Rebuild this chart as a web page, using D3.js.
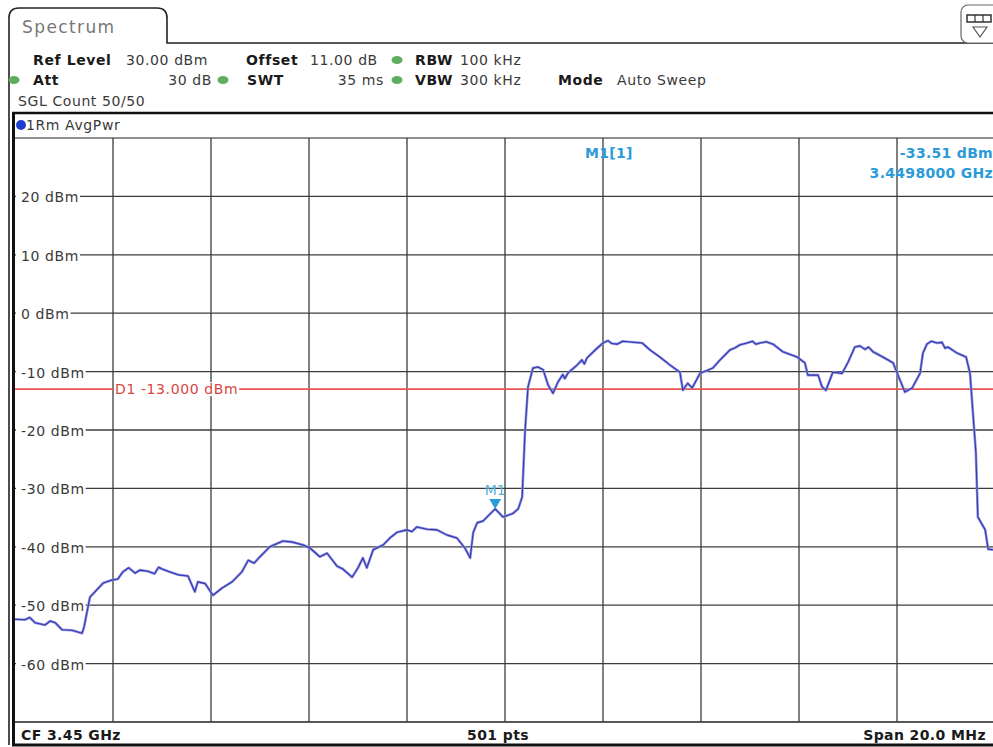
<!DOCTYPE html>
<html><head><meta charset="utf-8">
<script src="https://cdn.jsdelivr.net/npm/d3@7"></script>
<style>
html,body{margin:0;padding:0;background:#fff;}
svg{display:block;}
text{font-family:"DejaVu Sans",Verdana,sans-serif;}
</style></head>
<body>
<svg id="chart" width="993" height="747"></svg>
<script>
// ---- data ----
const freqOffsetMHz = [-10.00,-9.80,-9.70,-9.59,-9.39,-9.28,-9.18,-9.04,-8.84,-8.63,-8.59,-8.51,-8.47,-8.37,-8.20,-8.02,-7.90,-7.80,-7.68,-7.55,-7.45,-7.29,-7.15,-7.07,-7.00,-6.88,-6.67,-6.47,-6.33,-6.27,-6.12,-5.96,-5.78,-5.57,-5.37,-5.24,-5.12,-5.00,-4.80,-4.53,-4.33,-4.12,-3.98,-3.78,-3.63,-3.43,-3.31,-3.12,-3.00,-2.90,-2.82,-2.69,-2.49,-2.35,-2.20,-2.00,-1.90,-1.80,-1.59,-1.39,-1.18,-0.98,-0.82,-0.71,-0.65,-0.57,-0.45,-0.20,-0.04,0.16,0.27,0.35,0.41,0.47,0.57,0.67,0.78,0.88,0.98,1.08,1.18,1.22,1.29,1.47,1.57,1.62,1.67,1.84,2.00,2.10,2.18,2.29,2.40,2.51,2.80,2.96,3.16,3.37,3.57,3.63,3.73,3.82,3.98,4.24,4.39,4.59,4.70,4.80,4.94,5.05,5.12,5.20,5.33,5.47,5.67,5.96,6.12,6.18,6.39,6.47,6.55,6.69,6.88,7.00,7.14,7.24,7.35,7.42,7.51,7.71,7.92,8.02,8.16,8.31,8.47,8.53,8.61,8.70,8.82,8.92,8.98,9.04,9.22,9.41,9.49,9.55,9.61,9.65,9.80,9.86,9.96];
const levelDbm = [-52.4,-52.5,-52.1,-53.0,-53.4,-52.7,-53.0,-54.2,-54.3,-54.8,-53.7,-50.3,-48.6,-47.7,-46.2,-45.7,-45.5,-44.3,-43.6,-44.5,-44.0,-44.2,-44.6,-43.5,-43.8,-44.2,-44.8,-45.0,-47.7,-46.0,-46.3,-48.3,-47.1,-46.0,-44.3,-42.3,-42.8,-41.7,-40.0,-39.0,-39.2,-39.7,-40.2,-41.7,-41.1,-43.3,-43.8,-45.2,-43.6,-41.9,-43.6,-40.5,-39.7,-38.5,-37.5,-37.1,-37.4,-36.6,-37.0,-37.1,-38.0,-38.5,-40.2,-41.9,-37.6,-35.9,-35.6,-33.5,-34.9,-34.3,-33.5,-31.5,-20.0,-12.6,-9.4,-9.2,-9.7,-12.3,-13.7,-11.8,-10.5,-11.2,-10.2,-8.9,-8.0,-8.7,-7.7,-6.3,-5.1,-4.7,-5.2,-5.3,-4.8,-4.9,-5.1,-6.3,-7.5,-8.9,-10.1,-13.2,-12.0,-12.8,-10.3,-9.4,-8.0,-6.3,-5.9,-5.4,-5.1,-4.8,-5.3,-5.1,-4.9,-5.3,-6.6,-7.5,-8.5,-10.6,-10.6,-12.6,-13.2,-10.1,-10.3,-8.4,-5.8,-5.6,-6.2,-5.8,-6.6,-7.5,-8.5,-10.6,-13.5,-12.8,-10.3,-6.8,-5.3,-4.8,-5.1,-5.0,-6.0,-5.8,-6.8,-7.5,-10.3,-17.1,-23.9,-34.9,-37.1,-40.4,-40.5];
const yTicks = [20,10,0,-10,-20,-30,-40,-50,-60];
const xGrid = [-8,-6,-4,-2,0,2,4,6,8];
const displayLine = -13.0;
const markerFreq = -0.2;    // 3.4498 GHz
const markerLevel = -33.51;
const markerFreqLabel = "3.4498000 GHz";
const centerLabel = "CF 3.45 GHz";
const ptsLabel = "501 pts";
const spanLabel = "Span 20.0 MHz";

// ---- drawing ----
const svg = d3.select("#chart");
const x = d3.scaleLinear().domain([-10,10]).range([15,995]);
const y = d3.scaleLinear().domain([-70,30]).range([722,138]);

// tab frame
svg.append("path")
  .attr("d","M9,745 L9,18 Q9,8 19,8 L157,8 Q167,8 167,18 L167,43 L993,43")
  .attr("fill","none").attr("stroke","#222").attr("stroke-width",1.6);
svg.append("text").attr("x",22).attr("y",33).attr("font-size",17)
  .attr("letter-spacing",1.4).attr("fill","#777").text("Spectrum");

// top-right icon
svg.append("rect").attr("x",961).attr("y",5).attr("width",40).attr("height",38).attr("rx",7)
  .attr("fill","#fff").attr("stroke","#666").attr("stroke-width",1.2);
svg.append("rect").attr("x",967).attr("y",15).attr("width",24).attr("height",7)
  .attr("fill","none").attr("stroke","#333").attr("stroke-width",1.5);
[975,983].forEach(v=>svg.append("line").attr("x1",v).attr("x2",v).attr("y1",15).attr("y2",22).attr("stroke","#333").attr("stroke-width",1.2));
svg.append("path").attr("d","M973,27 L987,27 L980,37 Z").attr("fill","none").attr("stroke","#555").attr("stroke-width",1.2);

// header texts
const hdr = svg.append("g").attr("font-size",14).attr("letter-spacing",0.6);
function t(xp,yp,s,bold,anchor){
  hdr.append("text").attr("x",xp).attr("y",yp).attr("font-weight",bold?"bold":"normal")
    .attr("fill",bold?"#1a1a1a":"#3a3a3a").attr("text-anchor",anchor||"start").text(s);
}
function dot(xp,yp){
  svg.append("ellipse").attr("cx",xp).attr("cy",yp).attr("rx",5.5).attr("ry",4).attr("fill","#5fae5f");
}
t(33,65,"Ref Level",true); t(126,65,"30.00 dBm");
t(246,65,"Offset",true); t(310,65,"11.00 dB"); dot(397,60);
t(415,65,"RBW",true); t(460,65,"100 kHz");
dot(14,80); t(33,85,"Att",true); t(212,85,"30 dB",false,"end");
dot(223,80); t(247,85,"SWT",true); t(384,85,"35 ms",false,"end");
dot(397,80); t(415,85,"VBW",true); t(460,85,"300 kHz");
t(558,85,"Mode",true); t(617,85,"Auto Sweep");
t(18,106,"SGL Count 50/50");

// panel frame
svg.append("line").attr("x1",12).attr("x2",993).attr("y1",113).attr("y2",113).attr("stroke","#111").attr("stroke-width",2.5);
svg.append("line").attr("x1",13.5).attr("x2",13.5).attr("y1",113).attr("y2",746).attr("stroke","#111").attr("stroke-width",3);
svg.append("line").attr("x1",12).attr("x2",993).attr("y1",745).attr("y2",745).attr("stroke","#111").attr("stroke-width",3);
svg.append("circle").attr("cx",21).attr("cy",125).attr("r",5).attr("fill","#1f3fd0");
t(26,130,"1Rm AvgPwr");
svg.append("line").attr("x1",15).attr("x2",993).attr("y1",y(30)).attr("y2",y(30)).attr("stroke","#222").attr("stroke-width",1.2);
svg.append("line").attr("x1",15).attr("x2",993).attr("y1",y(-70)).attr("y2",y(-70)).attr("stroke","#222").attr("stroke-width",1.5);

// grid
const grid = svg.append("g").attr("stroke","#3c3c3c").attr("stroke-width",1.3);
grid.selectAll("line.v").data(xGrid).join("line").attr("class","v")
  .attr("x1",d=>x(d)).attr("x2",d=>x(d)).attr("y1",y(30)).attr("y2",y(-70));
grid.selectAll("line.h").data(yTicks).join("line").attr("class","h")
  .attr("x1",15).attr("x2",993).attr("y1",d=>y(d)).attr("y2",d=>y(d));

// display line D1
svg.append("line").attr("x1",15).attr("x2",993).attr("y1",y(displayLine)).attr("y2",y(displayLine))
  .attr("stroke","#e8564f").attr("stroke-width",1.6);
const d1g = svg.append("g");
const d1bg = d1g.append("rect").attr("fill","#fff");
const d1 = d1g.append("text").attr("x",115).attr("y",y(displayLine)+5).attr("font-size",14)
  .attr("letter-spacing",0.6).attr("fill","#d9463f").text("D1  -13.000 dBm");
const bb = d1.node().getBBox();
d1bg.attr("x",bb.x-1).attr("y",bb.y+1).attr("width",bb.width+2).attr("height",bb.height-2);

// y labels
const yl = svg.append("g").attr("font-size",14).attr("letter-spacing",0.6).attr("fill","#3a3a3a");
yTicks.forEach(v=>{
  const g = yl.append("g");
  const bg = g.append("rect").attr("fill","#fff");
  const tx = g.append("text").attr("x",21).attr("y",y(v)+6).text(v+" dBm");
  const b = tx.node().getBBox();
  bg.attr("x",16).attr("y",b.y+1).attr("width",b.x+b.width-16+1).attr("height",b.height-2);
});

// trace
const pts = d3.zip(freqOffsetMHz, levelDbm);
const line = d3.line().x(d=>x(d[0])).y(d=>y(d[1]));
svg.append("path").datum(pts).attr("d",line).attr("fill","none").attr("stroke","#8d90e0").attr("stroke-width",2.6).attr("stroke-linejoin","round");
svg.append("path").datum(pts).attr("d",line).attr("fill","none").attr("stroke","#3439b0").attr("stroke-width",1.1).attr("stroke-linejoin","round");

// marker
const mx = x(markerFreq), my = y(markerLevel);
svg.append("path").attr("d",`M${mx-6},${my-10} L${mx+6},${my-10} L${mx},${my} Z`).attr("fill","#2a9ad8");
svg.append("text").attr("x",mx).attr("y",my-14).attr("text-anchor","middle").attr("font-size",14).attr("fill","#58b2e0").text("M1");
const mk = svg.append("g").attr("font-size",14).attr("font-weight","bold").attr("fill","#2a9ad8").attr("letter-spacing",0.3);
mk.append("text").attr("x",585).attr("y",158).text("M1[1]");
mk.append("text").attr("x",993).attr("y",158).attr("text-anchor","end").text(markerLevel.toFixed(2)+" dBm");
mk.append("text").attr("x",993).attr("y",178).attr("text-anchor","end").text(markerFreqLabel);

// footer
const ft = svg.append("g").attr("font-size",14).attr("font-weight","bold").attr("fill","#1a1a1a").attr("letter-spacing",0.4);
ft.append("text").attr("x",21).attr("y",740).text(centerLabel);
ft.append("text").attr("x",498).attr("y",740).attr("text-anchor","middle").text(ptsLabel);
ft.append("text").attr("x",986).attr("y",740).attr("text-anchor","end").text(spanLabel);
</script>
</body></html>
